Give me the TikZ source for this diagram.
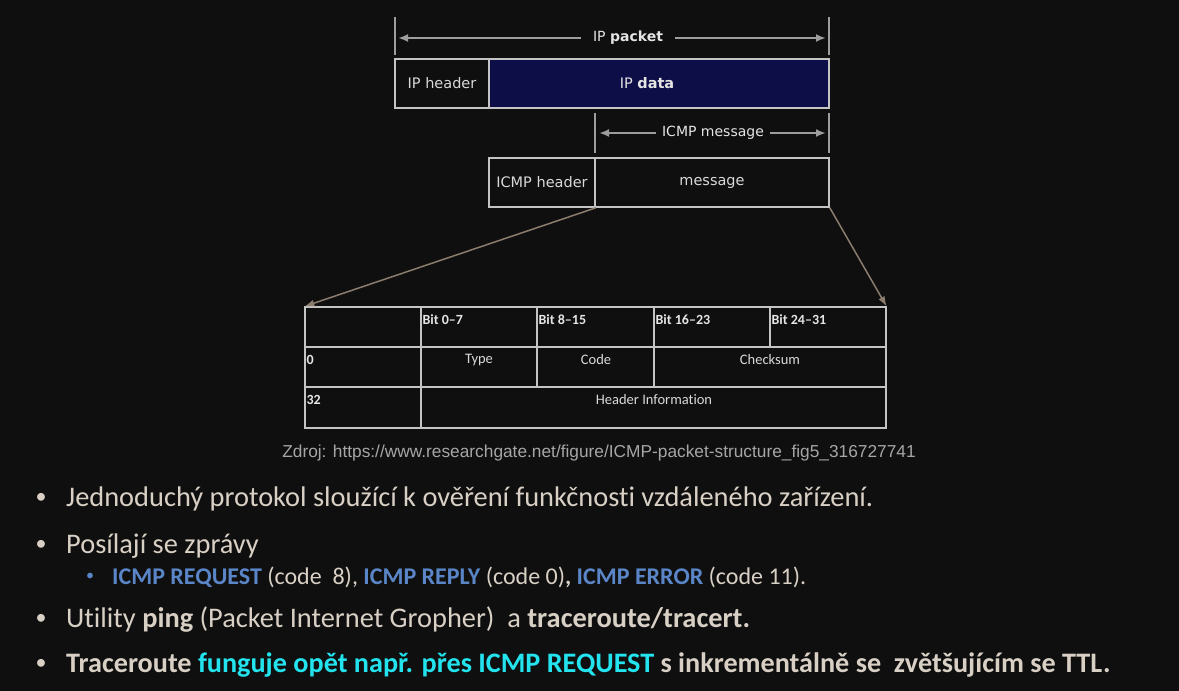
\documentclass[tikz,border=0pt]{standalone}
\usepackage{fontspec}
\setmainfont{Carlito}[Ligatures=NoCommon]
\newfontfamily\dejavu{DejaVu Sans}
\newfontfamily\arialf{Liberation Sans}
\usetikzlibrary{arrows.meta}

\definecolor{bgc}{HTML}{0F0F0F}
\definecolor{boxline}{HTML}{C4C4C4}
\definecolor{navyfill}{HTML}{0D0D47}
\definecolor{beige}{HTML}{D9D0C5}
\definecolor{icmpblue}{HTML}{5A86C8}
\definecolor{cyanhl}{HTML}{22E3EE}
\definecolor{srcgray}{HTML}{A6A6A6}
\definecolor{diagc}{HTML}{8B7D6E}

\tikzset{
  pktbox/.style={draw=boxline, line width=1.6pt, minimum height=49pt, inner sep=0pt,
    text=white!85!black, font=\dejavu\fontsize{14.5}{16}\selectfont},
  dimline/.style={draw=boxline!80!black, line width=2pt},
  dimarrow/.style={draw=boxline!80!black, line width=2pt, -{Latex[length=10pt,width=8pt]}},
  dimlbl/.style={text=white!90!black, inner sep=12pt, font=\dejavu\fontsize{14}{16}\selectfont},
  tabline/.style={draw=boxline, line width=1.2pt},
  tabhead/.style={anchor=west, text=white!90!black, font=\bfseries\fontsize{14}{16}\selectfont},
  tabcell/.style={text=white!85!black, font=\fontsize{14.5}{16}\selectfont},
  linkarrow/.style={draw=diagc, line width=1.5pt, -{Latex[length=10pt,width=7pt]}},
  bulletline/.style={anchor=base west, text=beige, inner sep=0pt, font=\fontsize{28.4}{32}\selectfont},
  subline/.style={anchor=base west, text=beige, inner sep=0pt, font=\fontsize{24}{27}\selectfont},
  bulletdot/.style={text=beige, inner sep=0pt, font=\fontsize{22}{24}\selectfont},
  subdot/.style={text=icmpblue, inner sep=0pt, font=\fontsize{16}{18}\selectfont},
}

\begin{document}
\begin{tikzpicture}[x=1pt, y=-1pt]
\fill[bgc] (0,0) rectangle (1179,691);
\useasboundingbox (0,0) rectangle (1179,691);

% IP packet
\draw[dimline] (395,17) -- (395,55);
\draw[dimline] (829,17) -- (829,55);
\node[dimlbl] (ippkt) at (628,38) {IP \textbf{packet}};
\draw[dimarrow] (ippkt.west) -- (398,38);
\draw[dimarrow] (ippkt.east) -- (826,38);

\node[pktbox, minimum width=94pt] (iphdr) at (442,83.5) {IP header};
\node[pktbox, fill=navyfill, minimum width=340pt] (ipdata) at (659,83.5) {};
\node[text=white!90!black, font=\dejavu\fontsize{14.5}{16}\selectfont] (ipdatalbl) at (647,83.5) {IP \textbf{data}};

% ICMP message
\draw[dimline] (595,113) -- (595,153);
\draw[dimline] (829,113) -- (829,153);
\node[dimlbl, inner sep=6pt] (icmpmsg) at (713,133) {ICMP message};
\draw[dimarrow] (icmpmsg.west) -- (599,133);
\draw[dimarrow] (icmpmsg.east) -- (826,133);

\node[pktbox, minimum width=106pt] (icmphdr) at (542,182.5) {ICMP header};
\node[pktbox, minimum width=234pt] (msg) at (712,182.5) {\strut message};

% ICMP header table
\node[tabline, draw, minimum width=581pt, minimum height=121pt, inner sep=0pt] (tab) at (595.5,367.5) {};
\draw[tabline] (305,347) -- (886,347);
\draw[tabline] (305,387) -- (886,387);
\draw[tabline] (421,307) -- (421,428);
\draw[tabline] (537,307) -- (537,387);
\draw[tabline] (654,307) -- (654,387);
\draw[tabline] (770,307) -- (770,347);

\node[tabhead] at (419,320) {Bit 0--7};
\node[tabhead] at (535,320) {Bit 8--15};
\node[tabhead] at (652,320) {Bit 16--23};
\node[tabhead] at (768,320) {Bit 24--31};
\node[tabhead] at (303,360) {0};
\node[tabhead] at (303,400) {32};
\node[tabcell] at (479,360) {Type};
\node[tabcell] at (596,360) {Code};
\node[tabcell] at (770,360) {Checksum};
\node[tabcell] at (654,400) {Header Information};

\draw[linkarrow] (icmphdr.south east) -- (tab.north west);
\draw[linkarrow] (msg.south east) -- (tab.north east);

\node[text=srcgray, font=\arialf\fontsize{17.3}{20}\selectfont] (src) at (599,453)
  {Zdroj: https://www.researchgate.net/figure/ICMP-packet-structure\_fig5\_316727741};

% bullets
\node[bulletdot] at (41,498) {•};
\node[bulletline] at (66,506) {Jednoduchý protokol sloužící k ověření funkčnosti vzdáleného zařízení.};
\node[bulletdot] at (41,545) {•};
\node[bulletline] at (66,553) {Posílají se zprávy};
\node[subdot] at (90,577) {•};
\node[subline] at (112,584) {\textcolor{icmpblue}{\textbf{ICMP REQUEST}} (code~ 8), \textcolor{icmpblue}{\textbf{ICMP REPLY}} (code 0)\textbf{, }\textcolor{icmpblue}{\textbf{ICMP ERROR}} (code 11).};
\node[bulletdot] at (41,619) {•};
\node[bulletline] at (66,627) {Utility \textbf{ping} (Packet Internet Gropher)~ a \textbf{traceroute/tracert.}};
\node[bulletdot] at (41,664) {•};
\node[bulletline, font=\bfseries\fontsize{28.2}{32}\selectfont] at (66,672) {Traceroute \textcolor{cyanhl}{funguje opět např. přes ICMP REQUEST} s inkrementálně se~ zvětšujícím se TTL.};
\end{tikzpicture}
\end{document}
